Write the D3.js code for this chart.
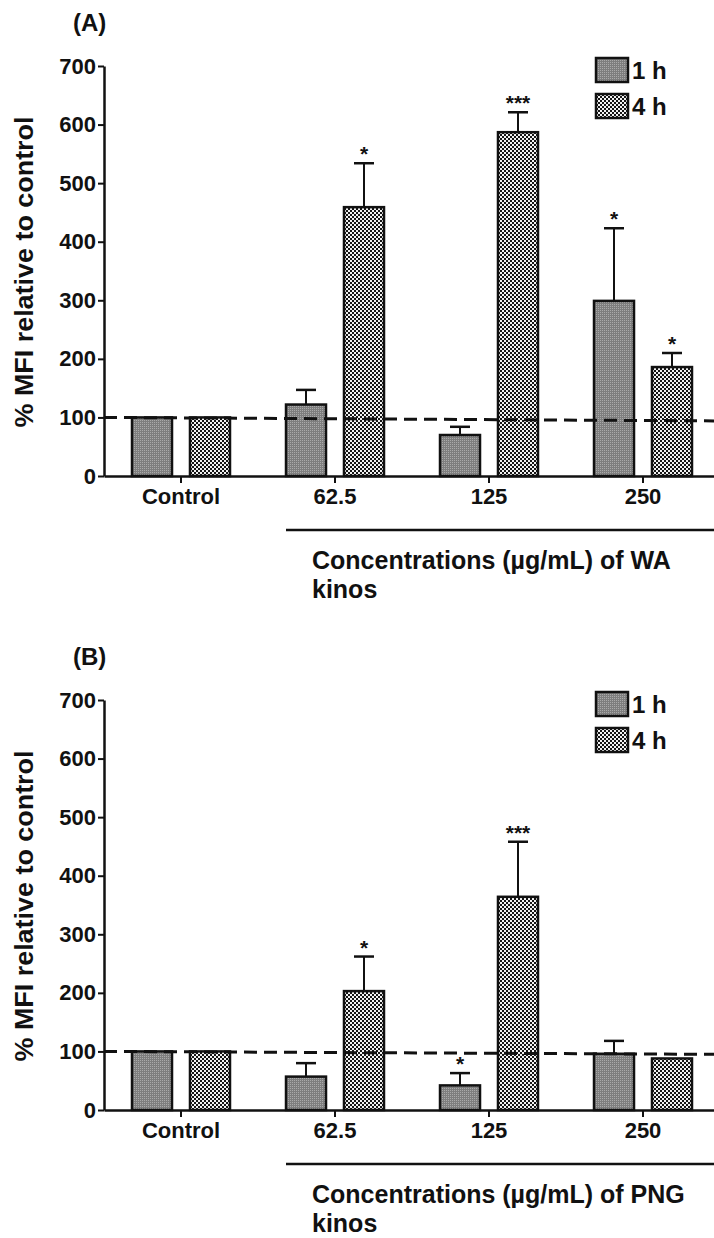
<!DOCTYPE html>
<html>
<head>
<meta charset="utf-8">
<script src="https://cdn.jsdelivr.net/npm/d3@7"></script>
<style>
  body { margin: 0; background: #fff; overflow: hidden; }
  svg text { font-family: "Liberation Sans", Arial, sans-serif; font-weight: bold; fill: #111; }
</style>
</head>
<body>
<div id="chart"></div>
<script>
// Chart data
var categories = ["Control", "62.5", "125", "250"];
var series = ["1 h", "4 h"];
var yTicks = [0, 100, 200, 300, 400, 500, 600, 700];

// Panel A (WA kinos)
var meanA1h = [100, 122, 70, 299];
var errA1h = [0, 25, 14, 124];
var starsA1h = ["", "", "", "*"];
var meanA4h = [100, 459, 587, 186];
var errA4h = [0, 75, 34, 24];
var starsA4h = ["", "*", "***", "*"];
var refA = [100, 94];

// Panel B (PNG kinos)
var meanB1h = [100, 57, 42, 96];
var errB1h = [0, 23, 21, 22];
var starsB1h = ["", "", "*", ""];
var meanB4h = [100, 203, 364, 88];
var errB4h = [0, 59, 94, 0];
var starsB4h = ["", "*", "***", ""];
var refB = [100, 95];

var svgWidth = 714;
var svgHeight = 1238;

var svg = d3.select("#chart")
  .append("svg")
  .attr("width", svgWidth)
  .attr("height", svgHeight);

// Fill patterns
var defs = svg.append("defs");

var p1 = defs.append("pattern")
  .attr("id", "pat1h")
  .attr("patternUnits", "userSpaceOnUse")
  .attr("width", 2)
  .attr("height", 2);
p1.append("rect").attr("width", 2).attr("height", 2).attr("fill", "#7e7e7e");
p1.append("rect").attr("width", 1).attr("height", 1).attr("fill", "#aaaaaa");

var p4 = defs.append("pattern")
  .attr("id", "pat4h")
  .attr("patternUnits", "userSpaceOnUse")
  .attr("width", 4)
  .attr("height", 4);
p4.append("rect").attr("width", 4).attr("height", 4).attr("fill", "#151515");
p4.append("rect").attr("width", 2).attr("height", 2).attr("fill", "#f2f2f2");
p4.append("rect").attr("x", 2).attr("y", 2).attr("width", 2).attr("height", 2).attr("fill", "#f2f2f2");

var fills = {"1 h": "url(#pat1h)", "4 h": "url(#pat4h)"};

function drawPanel(offsetY, tag, concLabel, m1, e1, s1, m4, e4, s4, ref) {
  var g = svg.append("g").attr("transform", `translate(0, ${offsetY})`);

  var y = d3.scaleLinear().domain([0, 700]).range([476, 66]);
  var x0 = d3.scaleBand().domain(categories).range([104, 720]);
  var x1 = d3.scaleBand().domain(series).range([28, 126]).paddingInner(0.31);

  var rows = categories.map(function(c, i) {
    return {cat: c, values: [
      {s: "1 h", v: m1[i], e: e1[i], star: s1[i]},
      {s: "4 h", v: m4[i], e: e4[i], star: s4[i]}
    ]};
  });

  // bars
  var groups = g.selectAll(".grp")
    .data(rows)
    .enter()
    .append("g")
    .attr("transform", d => `translate(${x0(d.cat)}, 0)`);

  var items = groups.selectAll(".item")
    .data(d => d.values)
    .enter()
    .append("g");

  items.append("rect")
    .attr("x", d => x1(d.s))
    .attr("y", d => y(d.v))
    .attr("width", x1.bandwidth())
    .attr("height", d => y(0) - y(d.v))
    .attr("fill", d => fills[d.s])
    .attr("stroke", "#111")
    .attr("stroke-width", 2.5);

  // error bars
  var err = items.filter(d => d.e > 0);
  err.append("line")
    .attr("x1", d => x1(d.s) + x1.bandwidth() / 2)
    .attr("x2", d => x1(d.s) + x1.bandwidth() / 2)
    .attr("y1", d => y(d.v))
    .attr("y2", d => y(d.v + d.e))
    .attr("stroke", "#111")
    .attr("stroke-width", 2);
  err.append("line")
    .attr("x1", d => x1(d.s) + x1.bandwidth() / 2 - 10)
    .attr("x2", d => x1(d.s) + x1.bandwidth() / 2 + 10)
    .attr("y1", d => y(d.v + d.e))
    .attr("y2", d => y(d.v + d.e))
    .attr("stroke", "#111")
    .attr("stroke-width", 2.5);

  // significance stars
  items.filter(d => d.star !== "")
    .append("text")
    .attr("x", d => x1(d.s) + x1.bandwidth() / 2)
    .attr("y", d => y(d.v + d.e) - 2)
    .attr("text-anchor", "middle")
    .style("font-size", "21px")
    .text(d => d.star);

  // dashed reference line
  g.append("line")
    .attr("x1", x0.range()[0])
    .attr("x2", x0.range()[1])
    .attr("y1", y(ref[0]))
    .attr("y2", y(ref[1]))
    .attr("stroke", "#111")
    .attr("stroke-width", 3)
    .attr("stroke-dasharray", "13,7");

  // axes
  var leftAxis = d3.axisLeft(y).tickValues(yTicks).tickSize(6).tickPadding(2).tickSizeOuter(0);
  var bottomAxis = d3.axisBottom(x0).tickSize(7).tickPadding(5).tickSizeOuter(0);

  var ya = g.append("g").attr("transform", "translate(104, 0)").call(leftAxis);
  var xa = g.append("g").attr("transform", `translate(0, ${y(0)})`).call(bottomAxis);
  [ya, xa].forEach(function(a) {
    a.select(".domain").attr("stroke", "#111").attr("stroke-width", 2.5);
    a.selectAll(".tick line").attr("stroke", "#111").attr("stroke-width", 2);
    a.selectAll(".tick text").style("font-size", "22px").attr("fill", "#111");
  });

  // panel tag
  g.append("text")
    .attr("x", 73)
    .attr("y", 31)
    .style("font-size", "24px")
    .text(tag);

  // y label
  g.append("text")
    .attr("transform", "translate(33, 272) rotate(-90)")
    .attr("text-anchor", "middle")
    .style("font-size", "25px")
    .attr("textLength", 311)
    .attr("lengthAdjust", "spacingAndGlyphs")
    .text("% MFI relative to control");

  // concentration bracket and label
  g.append("line")
    .attr("x1", x0("62.5") + 28)
    .attr("x2", svgWidth)
    .attr("y1", 530)
    .attr("y2", 530)
    .attr("stroke", "#111")
    .attr("stroke-width", 2.5);

  var lbl = g.append("text")
    .attr("x", 312)
    .attr("y", 569)
    .style("font-size", "25px");
  lbl.append("tspan").attr("x", 312).attr("y", 569).text(concLabel[0]);
  lbl.append("tspan").attr("x", 312).attr("y", 598).text(concLabel[1]);

  // legend
  var leg = g.selectAll(".leg")
    .data(series)
    .enter()
    .append("g")
    .attr("transform", (d, i) => `translate(596, ${58 + i * 36})`);
  leg.append("rect")
    .attr("width", 32)
    .attr("height", 24)
    .attr("fill", d => fills[d])
    .attr("stroke", "#111")
    .attr("stroke-width", 2.5);
  leg.append("text")
    .attr("x", 36)
    .attr("y", 21)
    .style("font-size", "24px")
    .text(d => d);
}

drawPanel(0, "(A)", ["Concentrations (\u00b5g/mL) of WA", "kinos"],
  meanA1h, errA1h, starsA1h, meanA4h, errA4h, starsA4h, refA);
drawPanel(634, "(B)", ["Concentrations (\u00b5g/mL) of PNG", "kinos"],
  meanB1h, errB1h, starsB1h, meanB4h, errB4h, starsB4h, refB);
</script>
</body>
</html>
